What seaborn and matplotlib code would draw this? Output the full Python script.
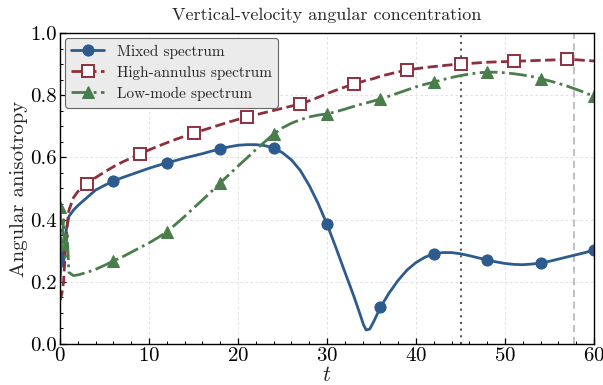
import numpy as np
import pandas as pd
import matplotlib
matplotlib.use("Agg")
import matplotlib.pyplot as plt
import seaborn as sns

# Sample times (dense near t=0 where the start-up transient oscillates)
t = [0, 0.2, 0.4, 0.6, 0.8, 1, 1.5, 2, 3, 4, 5, 6, 7, 8, 9, 10, 11, 12, 13, 14,
     15, 16, 17, 18, 19, 20, 21, 22, 23, 24, 25, 26, 27, 28, 29, 30, 31, 32, 33,
     33.6, 34.1, 34.4, 34.8, 35.3, 36, 37, 38, 39, 40, 41, 42, 43, 44, 45, 46, 47,
     48, 49, 50, 51, 52, 53, 54, 55, 56, 57, 58, 59, 60]

mixed = [0.20, 0.30, 0.25, 0.35, 0.38, 0.41, 0.43, 0.445, 0.47, 0.495, 0.51, 0.524,
         0.535, 0.545, 0.555, 0.565, 0.574, 0.582, 0.590, 0.598, 0.605, 0.612, 0.620,
         0.627, 0.634, 0.639, 0.641, 0.641, 0.638, 0.630, 0.615, 0.592, 0.558, 0.510,
         0.452, 0.385, 0.310, 0.232, 0.155, 0.105, 0.062, 0.045, 0.048, 0.075, 0.118,
         0.165, 0.205, 0.238, 0.262, 0.279, 0.290, 0.294, 0.294, 0.290, 0.284, 0.277,
         0.270, 0.264, 0.259, 0.256, 0.255, 0.257, 0.260, 0.266, 0.273, 0.280, 0.287,
         0.294, 0.302]

high_annulus = [0.14, 0.16, 0.20, 0.30, 0.38, 0.43, 0.47, 0.49, 0.514, 0.535, 0.553,
                0.570, 0.585, 0.598, 0.611, 0.624, 0.636, 0.647, 0.658, 0.668, 0.678,
                0.687, 0.696, 0.705, 0.714, 0.722, 0.730, 0.737, 0.744, 0.751, 0.758,
                0.765, 0.772, 0.782, 0.793, 0.805, 0.816, 0.826, 0.836, 0.841, 0.845,
                0.848, 0.850, 0.854, 0.861, 0.868, 0.875, 0.881, 0.885, 0.889, 0.892,
                0.895, 0.898, 0.900, 0.902, 0.904, 0.906, 0.907, 0.908, 0.909, 0.910,
                0.911, 0.912, 0.913, 0.914, 0.915, 0.914, 0.912, 0.910]

low_mode = [0.44, 0.30, 0.40, 0.28, 0.36, 0.23, 0.22, 0.222, 0.23, 0.24, 0.253, 0.267,
            0.280, 0.295, 0.310, 0.325, 0.342, 0.360, 0.385, 0.410, 0.437, 0.463, 0.490,
            0.518, 0.545, 0.572, 0.598, 0.625, 0.650, 0.675, 0.695, 0.710, 0.721, 0.730,
            0.736, 0.740, 0.747, 0.755, 0.764, 0.769, 0.773, 0.775, 0.778, 0.782, 0.788,
            0.797, 0.807, 0.817, 0.827, 0.835, 0.842, 0.850, 0.857, 0.863, 0.868, 0.872,
            0.874, 0.874, 0.872, 0.869, 0.865, 0.860, 0.853, 0.846, 0.838, 0.829, 0.819,
            0.808, 0.796]

# Times at which each series carries a marker
mixed_marks = [6, 12, 18, 24, 30, 36, 42, 48, 54, 60]
high_marks = [3, 9, 15, 21, 27, 33, 39, 45, 51, 57]
low_marks = [0, 6, 12, 18, 24, 30, 36, 42, 48, 54, 60]

labels = ["Mixed spectrum", "High-annulus spectrum", "Low-mode spectrum"]
t_event = 45
t_window = 57.75

sns.set_theme(style="ticks")
plt.rcParams.update({
    "font.family": ["cmr10", "DejaVu Serif"],
    "mathtext.fontset": "cm",
    "axes.formatter.use_mathtext": True,
    "axes.unicode_minus": False,
    "xtick.direction": "in",
    "ytick.direction": "in",
    "xtick.major.size": 4.5,
    "ytick.major.size": 4.5,
    "xtick.minor.size": 2.5,
    "ytick.minor.size": 2.5,
    "xtick.minor.visible": True,
    "ytick.minor.visible": True,
    "axes.edgecolor": "black",
    "axes.linewidth": 1.0,
})

fig = plt.figure(figsize=(6.03, 3.85), dpi=100)
ax = fig.add_axes([60 / 603, 1 - 344 / 385, 534 / 603, 311 / 385])

df = pd.DataFrame({"t": t, "mixed": mixed, "high": high_annulus, "low": low_mode})

def mark_idx(marks):
    return [i for i, v in enumerate(t) if v in marks]

styles = [
    ("mixed", labels[0], "#2d5b8e", "-", "o", dict(markerfacecolor="#2d5b8e",
                                                  markeredgecolor="#2d5b8e", markersize=8),
     mixed_marks),
    ("high", labels[1], "#8e2f3e", "--", "s", dict(markerfacecolor="white",
                                                  markeredgecolor="#8e2f3e",
                                                  markeredgewidth=1.4, markersize=8),
     high_marks),
    ("low", labels[2], "#4a7d4c", "-.", "^", dict(markerfacecolor="#4a7d4c",
                                                 markeredgecolor="#4a7d4c", markersize=8.5),
     low_marks),
]

for col, lab, color, ls, mk, mkw, marks in styles:
    sns.lineplot(data=df, x="t", y=col, ax=ax, color=color, linestyle=ls,
                 linewidth=2.0, marker=mk, markevery=mark_idx(marks), label=lab,
                 sort=False, **mkw)

ax.axvline(t_event, color="#555555", linestyle=(0, (1, 2.2)), linewidth=1.5, zorder=1)
ax.axvline(t_window, color="#bbbbbb", linestyle=(0, (4, 2.5)), linewidth=1.3, zorder=1)

ax.set_xlim(0, 60)
ax.set_ylim(0, 1.0)
ax.set_xticks(np.arange(0, 61, 10))
ax.set_yticks(np.arange(0, 1.01, 0.2))
ax.set_xticks(np.arange(0, 61, 2), minor=True)
ax.set_yticks(np.arange(0, 1.01, 0.05), minor=True)
ax.yaxis.set_major_formatter(matplotlib.ticker.FormatStrFormatter("%.1f"))
ax.tick_params(which="both", top=False, right=False, labelsize=15, colors="black",
               pad=2)
ax.tick_params(which="major", width=0.9)
ax.tick_params(which="minor", width=0.7)
ax.grid(True, which="major", color="#dddddd", linestyle=(0, (3, 3)), linewidth=0.6)

ax.set_xlabel("$t$", fontsize=16, labelpad=0.5)
ax.set_ylabel("Angular anisotropy", fontsize=15, labelpad=2)
ax.set_title("Vertical-velocity angular concentration", fontsize=13, pad=9)

leg = ax.legend(loc="upper left", fontsize=11, frameon=True, fancybox=True,
                borderpad=0.45, labelspacing=0.45, handlelength=2.15,
                handletextpad=0.8, borderaxespad=0.3)
leg.get_frame().set_facecolor("#ebebeb")
leg.get_frame().set_edgecolor("#666666")
leg.get_frame().set_alpha(1.0)
leg.get_frame().set_linewidth(0.8)

fig.savefig("out.png", dpi=100)
